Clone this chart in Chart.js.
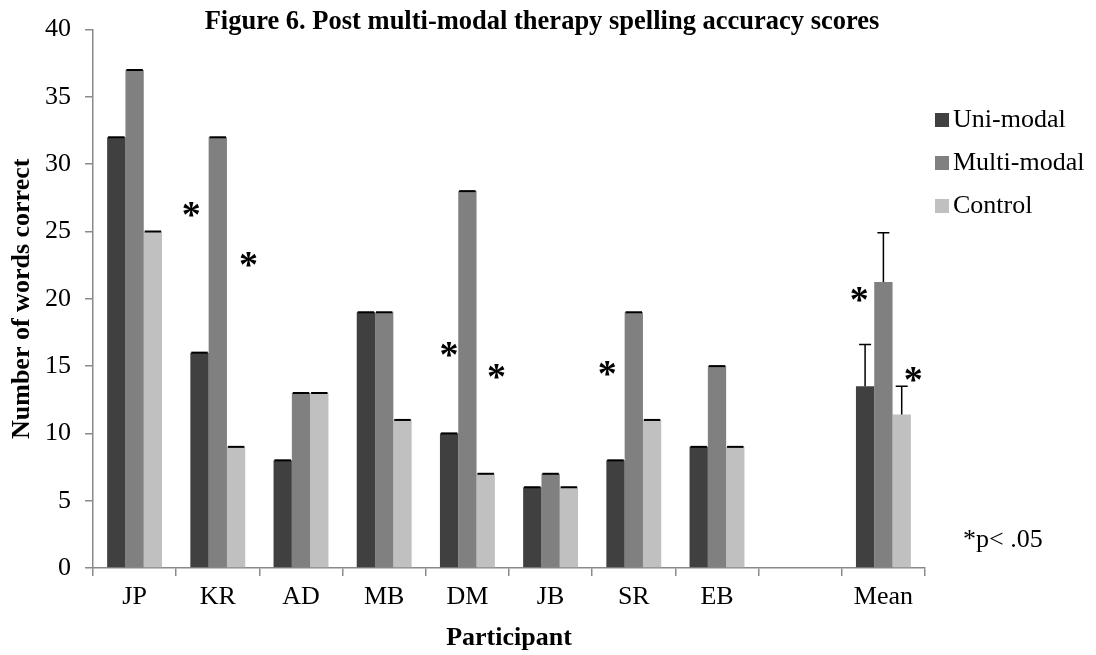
<!DOCTYPE html>
<html>
<head>
<meta charset="utf-8">
<script src="https://cdn.jsdelivr.net/npm/chart.js@4.4.0/dist/chart.umd.min.js"></script>
<style>
  html, body { margin: 0; padding: 0; background: #fff; }
  #wrap { width: 1096px; height: 655px; }
</style>
</head>
<body>
<div id="wrap"><canvas id="c" width="1096" height="655"></canvas></div>
<script>
// ── data ──
const participants = ['JP', 'KR', 'AD', 'MB', 'DM', 'JB', 'SR', 'EB', '', 'Mean'];
const uniModal   = [32, 16, 8, 19, 10, 6, 8, 9, null, 13.5];
const multiModal = [37, 32, 13, 19, 28, 7, 19, 15, null, 21.25];
const control    = [25, 9, 13, 11, 7, 6, 11, 9, null, 11.4];
const uniErr     = [0, 0, 0, 0, 0, 0, 0, 0, null, 3.1];
const multiErr   = [0, 0, 0, 0, 0, 0, 0, 0, null, 3.65];
const ctrlErr    = [0, 0, 0, 0, 0, 0, 0, 0, null, 2.1];
const yTicks = [0, 5, 10, 15, 20, 25, 30, 35, 40];

// significance stars: category, shift in category widths, y value
const sigCats  = ['KR', 'KR', 'DM', 'DM', 'SR', 'Mean', 'Mean'];
const sigShift = [-0.32, 0.37, -0.22, 0.35, -0.32, -0.29, 0.36];
const sigY     = [26.6, 22.9, 16.25, 14.6, 14.8, 20.3, 14.4];

const SERIF = '"Liberation Serif", "Times New Roman", serif';
const AXIS = '#8a8a8a';

const extras = {
  id: 'extras',
  afterDatasetsDraw(chart) {
    const ctx = chart.ctx, y = chart.scales.y;
    const errs = [uniErr, multiErr, ctrlErr];
    ctx.save();
    ctx.strokeStyle = '#000';
    chart.data.datasets.forEach((ds, di) => {
      chart.getDatasetMeta(di).data.forEach((bar, i) => {
        const e = errs[di][i];
        if (e == null || ds.data[i] == null) return;
        const top = y.getPixelForValue(ds.data[i] + e);
        if (e === 0) {
          ctx.lineWidth = 2;
          ctx.beginPath();
          ctx.moveTo(bar.x - bar.width * 0.45, top);
          ctx.lineTo(bar.x + bar.width * 0.45, top);
          ctx.stroke();
        } else {
          ctx.lineWidth = 1.5;
          ctx.beginPath();
          ctx.moveTo(bar.x, bar.y);
          ctx.lineTo(bar.x, top);
          ctx.moveTo(bar.x - 6, top);
          ctx.lineTo(bar.x + 6, top);
          ctx.stroke();
        }
      });
    });
    ctx.restore();
  },
  afterDraw(chart) {
    const ctx = chart.ctx, x = chart.scales.x, y = chart.scales.y;
    ctx.save();
    // title
    ctx.fillStyle = '#000';
    ctx.font = 'bold 26.5px ' + SERIF;
    ctx.textAlign = 'center';
    ctx.textBaseline = 'alphabetic';
    ctx.fillText('Figure 6. Post multi-modal therapy spelling accuracy scores', 542, 29);

    // legend
    ctx.textAlign = 'left';
    ctx.textBaseline = 'middle';
    ctx.font = '26px ' + SERIF;
    chart.data.datasets.forEach((ds, i) => {
      const ly = 120 + i * 43;
      ctx.fillStyle = ds.backgroundColor;
      ctx.fillRect(935, ly - 7, 14, 14);
      ctx.fillStyle = '#000';
      ctx.fillText(ds.label, 953, ly);
    });

    // stars
    ctx.font = 'bold 38px ' + SERIF;
    ctx.textAlign = 'center';
    ctx.textBaseline = 'alphabetic';
    const m = ctx.measureText('*');
    const mid = (m.actualBoundingBoxAscent - m.actualBoundingBoxDescent) / 2;
    const step = x.getPixelForValue(1) - x.getPixelForValue(0);
    sigCats.forEach((c, i) => {
      const px = x.getPixelForValue(participants.indexOf(c)) + sigShift[i] * step;
      const py = y.getPixelForValue(sigY[i]);
      ctx.fillText('*', px, py + mid);
    });

    // note
    ctx.font = '26px ' + SERIF;
    ctx.textAlign = 'left';
    ctx.fillText('*p< .05', 963, 547);
    ctx.restore();
  }
};

new Chart(document.getElementById('c').getContext('2d'), {
  type: 'bar',
  data: {
    labels: participants,
    datasets: [
      { label: 'Uni-modal', data: uniModal, backgroundColor: '#404040' },
      { label: 'Multi-modal', data: multiModal, backgroundColor: '#808080' },
      { label: 'Control', data: control, backgroundColor: '#c0c0c0' }
    ]
  },
  options: {
    responsive: false,
    animation: false,
    events: [],
    layout: { padding: { top: 24, right: 171, bottom: 0, left: 0 } },
    datasets: { bar: { categoryPercentage: 0.66, barPercentage: 1.0, borderWidth: 0 } },
    plugins: { legend: { display: false }, title: { display: false }, tooltip: { enabled: false } },
    scales: {
      x: {
        grid: { drawOnChartArea: false, drawTicks: true, tickLength: 8, color: AXIS, lineWidth: 1.5, offset: true },
        border: { color: AXIS, width: 1.5 },
        ticks: { color: '#000', font: { family: SERIF, size: 26 }, padding: 6, maxRotation: 0, autoSkip: false },
        title: { display: true, text: 'Participant', color: '#000', font: { family: SERIF, size: 26, weight: 'bold' }, padding: { top: 0, bottom: 1 } },
        afterFit: s => { s.height = 87; }
      },
      y: {
        min: 0, max: 40,
        afterBuildTicks: s => { s.ticks = yTicks.map(v => ({ value: v })); },
        grid: { drawOnChartArea: false, drawTicks: true, tickLength: 8, color: AXIS, lineWidth: 1.5 },
        border: { color: AXIS, width: 1.5 },
        ticks: { color: '#000', font: { family: SERIF, size: 26 }, padding: 14 },
        title: { display: true, text: 'Number of words correct', color: '#000', font: { family: SERIF, size: 26, weight: 'bold' }, padding: { top: 7, bottom: 0 } },
        afterFit: s => { s.width = 93; }
      }
    }
  },
  plugins: [extras]
});
</script>
</body>
</html>
